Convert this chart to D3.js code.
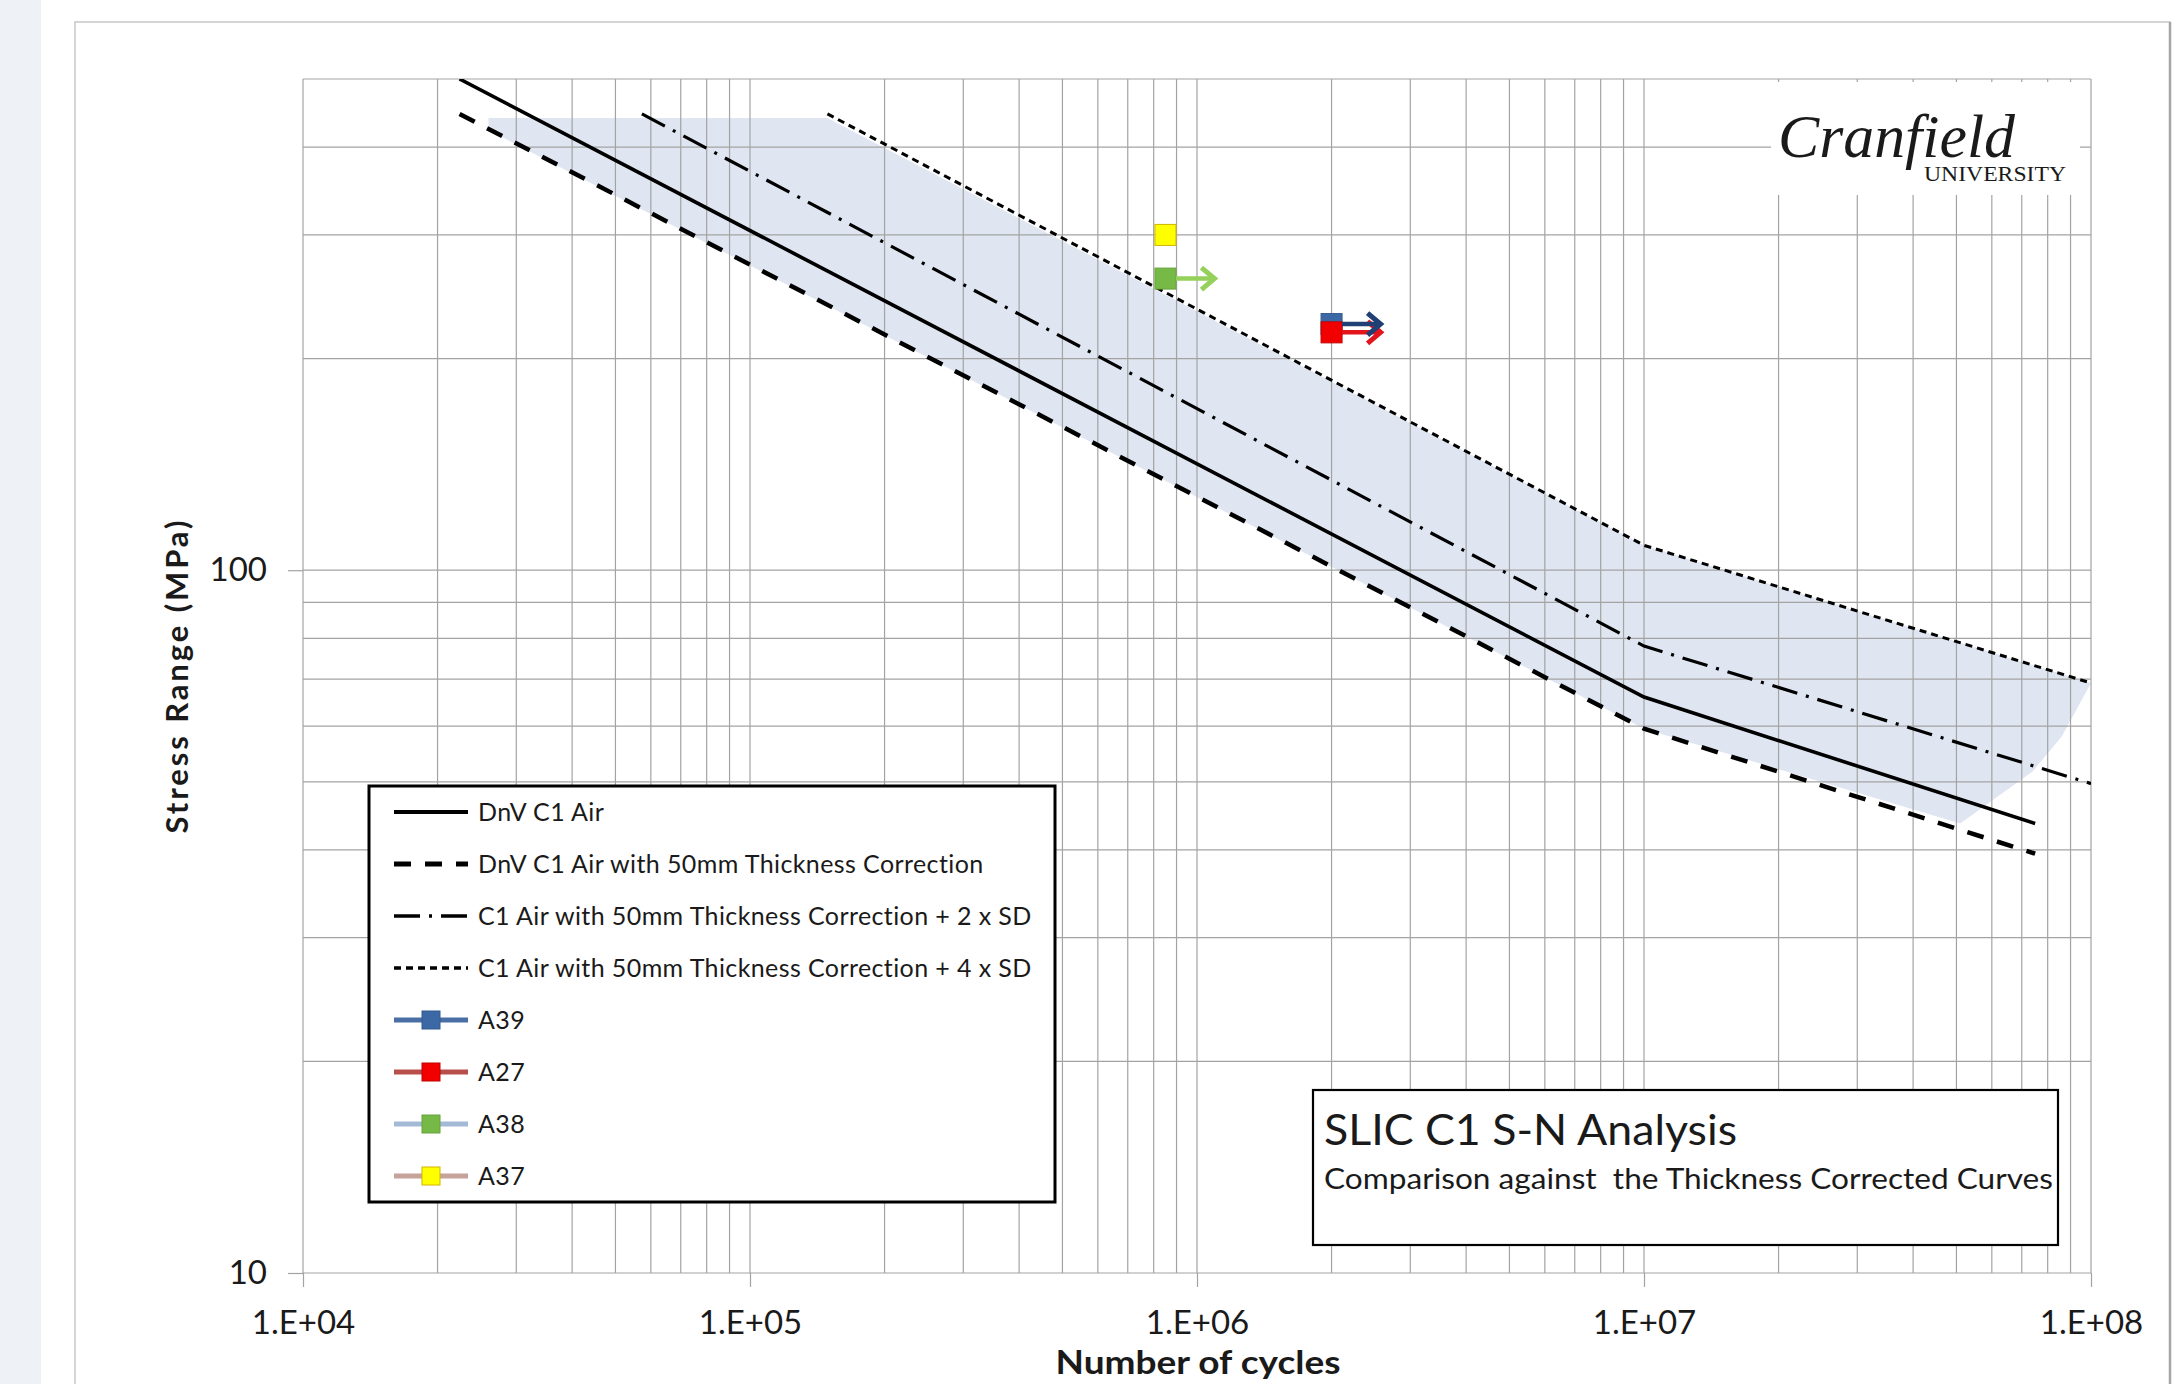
<!DOCTYPE html>
<html>
<head>
<meta charset="utf-8">
<script src="https://cdn.jsdelivr.net/npm/d3@7"></script>
<style>
body { margin: 0; background: #fff; }
svg { display: block; }
text { font-family: Lato, "Open Sans", sans-serif; fill: #1a1a1a; }
</style>
</head>
<body>
<svg id="chart" width="2179" height="1384"></svg>
<script>

// S-N design curves: [cycles, stress range MPa]
var curveLabels = [
    "DnV C1 Air",
    "DnV C1 Air with 50mm Thickness Correction",
    "C1 Air with 50mm Thickness Correction + 2 x SD",
    "C1 Air with 50mm Thickness Correction + 4 x SD"
];
var dnvAir = [[2.24e4, 500], [1e7, 66], [7.5e7, 43.6]];
var dnvThick = [[2.24e4, 446], [1e7, 59.5], [7.5e7, 39.5]];
var thick2sd = [[5.73e4, 446], [1e7, 78], [1e8, 49.7]];
var thick4sd = [[1.49e5, 446], [1e7, 108.5], [1e8, 69.1]];

// shaded scatter band outline
var scatterBand = [[2.6e4, 440], [1.49e5, 440], [1e7, 108.5], [1e8, 69.1], [8.6e7, 58],
    [7.4e7, 51.7], [5.1e7, 43.6], [1e7, 59.5], [2.6e4, 423]];

// test specimens
var specimens = ["A39", "A27", "A38", "A37"];
var specimenCycles = [2e6, 2e6, 8.5e5, 8.5e5];
var specimenStress = [224, 218, 260, 300];
var specimenRunout = [true, true, true, false];

var xTickValues = [1e4, 1e5, 1e6, 1e7, 1e8];
var xTickLabels = ["1.E+04", "1.E+05", "1.E+06", "1.E+07", "1.E+08"];
var yTickValues = [10, 100];
var yTickLabels = ["10", "100"];

// styles
var curveStyles = [
    { width: 3.6, dash: null },
    { width: 4.5, dash: "17,14" },
    { width: 3.2, dash: "26,9,3,9" },
    { width: 3, dash: "7,5" }
];
var markerFill = ["#3d68a6", "#f20000", "#77b946", "#ffff00"];
var markerStroke = ["#34598d", "#c00000", "#66a33b", "#d2b400"];
var arrowColor = ["#203f74", "#e3141c", "#95d05a", null];
var legendLineColor = ["#4a6fa5", "#b94f4a", "#a4b9d5", "#c6a29c"];

var svg = d3.select("#chart");

var x = d3.scaleLog().domain([1e4, 1e8]).range([303, 2091]);
var y = d3.scaleLog().domain([10, 500]).range([1273, 79]);

// page backdrop and chart frame
svg.append("rect").attr("width", 41).attr("height", 1384).attr("fill", "#eef1f6");
svg.append("rect")
    .attr("x", 75).attr("y", 22).attr("width", 2095).attr("height", 1400)
    .attr("fill", "#fff").attr("stroke", "#c8c8c8").attr("stroke-width", 1.5);
svg.append("line")
    .attr("x1", 2170).attr("x2", 2170).attr("y1", 22).attr("y2", 1384)
    .attr("stroke", "#a6a6a6").attr("stroke-width", 2.5);

svg.append("clipPath").attr("id", "plotclip").append("rect")
    .attr("x", 303).attr("y", 79).attr("width", 1788).attr("height", 1194);

var line = d3.line().x(function (d) { return x(d[0]); }).y(function (d) { return y(d[1]); });
var closedLine = d3.line().x(function (d) { return x(d[0]); }).y(function (d) { return y(d[1]); })
    .curve(d3.curveLinearClosed);

// band
svg.append("path").datum(scatterBand)
    .attr("clip-path", "url(#plotclip)")
    .attr("d", closedLine)
    .attr("fill", "#dfe6f1");

// gridlines
var grid = svg.append("g").attr("stroke", "#a3a3a3").attr("stroke-width", 1.2);
grid.selectAll("line.v").data(x.ticks()).join("line").attr("class", "v")
    .attr("x1", function (d) { return x(d); }).attr("x2", function (d) { return x(d); })
    .attr("y1", y(500)).attr("y2", y(10));
grid.selectAll("line.h").data(y.ticks()).join("line").attr("class", "h")
    .attr("x1", x(1e4)).attr("x2", x(1e8))
    .attr("y1", function (d) { return y(d); }).attr("y2", function (d) { return y(d); });

// axes
var xAxis = svg.append("g").attr("transform", "translate(0," + y(10) + ")")
    .call(d3.axisBottom(x).tickValues(xTickValues)
        .tickFormat(function (d, i) { return xTickLabels[i]; })
        .tickSize(14).tickSizeOuter(0).tickPadding(24));
var yAxis = svg.append("g").attr("transform", "translate(" + x(1e4) + ",0)")
    .call(d3.axisLeft(y).tickValues(yTickValues)
        .tickFormat(function (d, i) { return yTickLabels[i]; })
        .tickSize(15).tickSizeOuter(0).tickPadding(21));
[xAxis, yAxis].forEach(function (g) {
    g.attr("font-family", null).attr("font-size", null);
    g.select(".domain").remove();
    g.selectAll(".tick line").attr("stroke", "#a3a3a3").attr("stroke-width", 1.2);
    g.selectAll(".tick text").style("font-size", "33px").attr("fill", "#1a1a1a");
});

// logo
svg.append("rect").attr("x", 1771).attr("y", 82).attr("width", 309).attr("height", 113).attr("fill", "#fff");
svg.append("text").attr("x", 1778).attr("y", 157)
    .style("font-family", "'Liberation Serif', 'DejaVu Serif', serif").style("font-style", "italic")
    .style("font-size", "62px").attr("textLength", 237).attr("lengthAdjust", "spacingAndGlyphs")
    .attr("fill", "#111").text("Cranfield");
svg.append("text").attr("x", 1924).attr("y", 181)
    .style("font-family", "'Liberation Serif', 'DejaVu Serif', serif")
    .style("font-size", "22px").attr("textLength", 142).attr("lengthAdjust", "spacingAndGlyphs")
    .attr("fill", "#111").text("UNIVERSITY");

// curves
var curves = [dnvAir, dnvThick, thick2sd, thick4sd];
svg.append("g").attr("clip-path", "url(#plotclip)")
    .selectAll("path").data(curves).join("path")
    .attr("d", line)
    .attr("fill", "none")
    .attr("stroke", "#000")
    .attr("stroke-width", function (d, i) { return curveStyles[i].width; })
    .attr("stroke-dasharray", function (d, i) { return curveStyles[i].dash; });

// specimens: markers then run-out arrows
var pts = specimens.map(function (name, i) {
    return { name: name, n: specimenCycles[i], s: specimenStress[i], runout: specimenRunout[i], i: i };
});
var ms = 21;
svg.append("g").selectAll("rect").data(pts).join("rect")
    .attr("x", function (d) { return x(d.n) - ms / 2; })
    .attr("y", function (d) { return y(d.s) - ms / 2; })
    .attr("width", ms).attr("height", ms)
    .attr("fill", function (d) { return markerFill[d.i]; })
    .attr("stroke", function (d) { return markerStroke[d.i]; })
    .attr("stroke-width", 1);

var arrows = svg.append("g").selectAll("g")
    .data(pts.filter(function (d) { return d.runout; }).reverse())
    .join("g")
    .attr("transform", function (d) { return "translate(" + x(d.n) + "," + y(d.s) + ")"; })
    .attr("stroke", function (d) { return arrowColor[d.i]; })
    .attr("fill", "none");
arrows.append("line").attr("x1", ms / 2).attr("x2", 48).attr("y1", 0).attr("y2", 0).attr("stroke-width", 4.5);
arrows.append("path").attr("d", "M36,-11L49,0L36,11").attr("stroke-width", 5);

// legend
var legend = svg.append("g");
legend.append("rect").attr("x", 369).attr("y", 786).attr("width", 686).attr("height", 416)
    .attr("fill", "#fff").attr("stroke", "#000").attr("stroke-width", 3);
var legendRows = curveLabels.concat(specimens);
var rows = legend.selectAll("g.row").data(legendRows).join("g").attr("class", "row")
    .attr("transform", function (d, i) { return "translate(0," + (812 + i * 52) + ")"; });
rows.append("line")
    .attr("x1", 394).attr("x2", 468).attr("y1", 0).attr("y2", 0)
    .attr("stroke", function (d, i) { return i < 4 ? "#000" : legendLineColor[i - 4]; })
    .attr("stroke-width", function (d, i) { return i < 4 ? curveStyles[i].width + 0.5 : 5; })
    .attr("stroke-dasharray", function (d, i) { return i < 4 ? curveStyles[i].dash : null; });
rows.filter(function (d, i) { return i >= 4; }).append("rect")
    .attr("x", 422).attr("y", -9).attr("width", 18).attr("height", 18)
    .attr("fill", function (d) { return markerFill[specimens.indexOf(d)]; })
    .attr("stroke", function (d) { return markerStroke[specimens.indexOf(d)]; });
rows.append("text").attr("x", 478).attr("dy", "0.35em")
    .style("font-size", "25px").style("letter-spacing", "0.4px")
    .attr("fill", "#262626").text(function (d) { return d; });

// title box
svg.append("rect").attr("x", 1313).attr("y", 1090).attr("width", 745).attr("height", 155)
    .attr("fill", "#fff").attr("stroke", "#000").attr("stroke-width", 2.2);
svg.append("text").attr("x", 1324).attr("y", 1145)
    .style("font-size", "43px").attr("textLength", 413).attr("lengthAdjust", "spacingAndGlyphs")
    .text("SLIC C1 S-N Analysis");
svg.append("text").attr("x", 1324).attr("y", 1189)
    .style("font-size", "29px").style("white-space", "pre")
    .attr("textLength", 729).attr("lengthAdjust", "spacingAndGlyphs")
    .text("Comparison against  the Thickness Corrected Curves");

// axis titles
svg.append("text").attr("x", 1198).attr("y", 1374).attr("text-anchor", "middle")
    .style("font-size", "32px").style("font-weight", "bold")
    .attr("textLength", 285).attr("lengthAdjust", "spacingAndGlyphs")
    .text("Number of cycles");
svg.append("text").attr("transform", "translate(188,677) rotate(-90)").attr("text-anchor", "middle")
    .style("font-size", "31px").style("font-weight", "bold").attr("textLength", 313)
    .text("Stress Range (MPa)");

</script>
</body>
</html>
